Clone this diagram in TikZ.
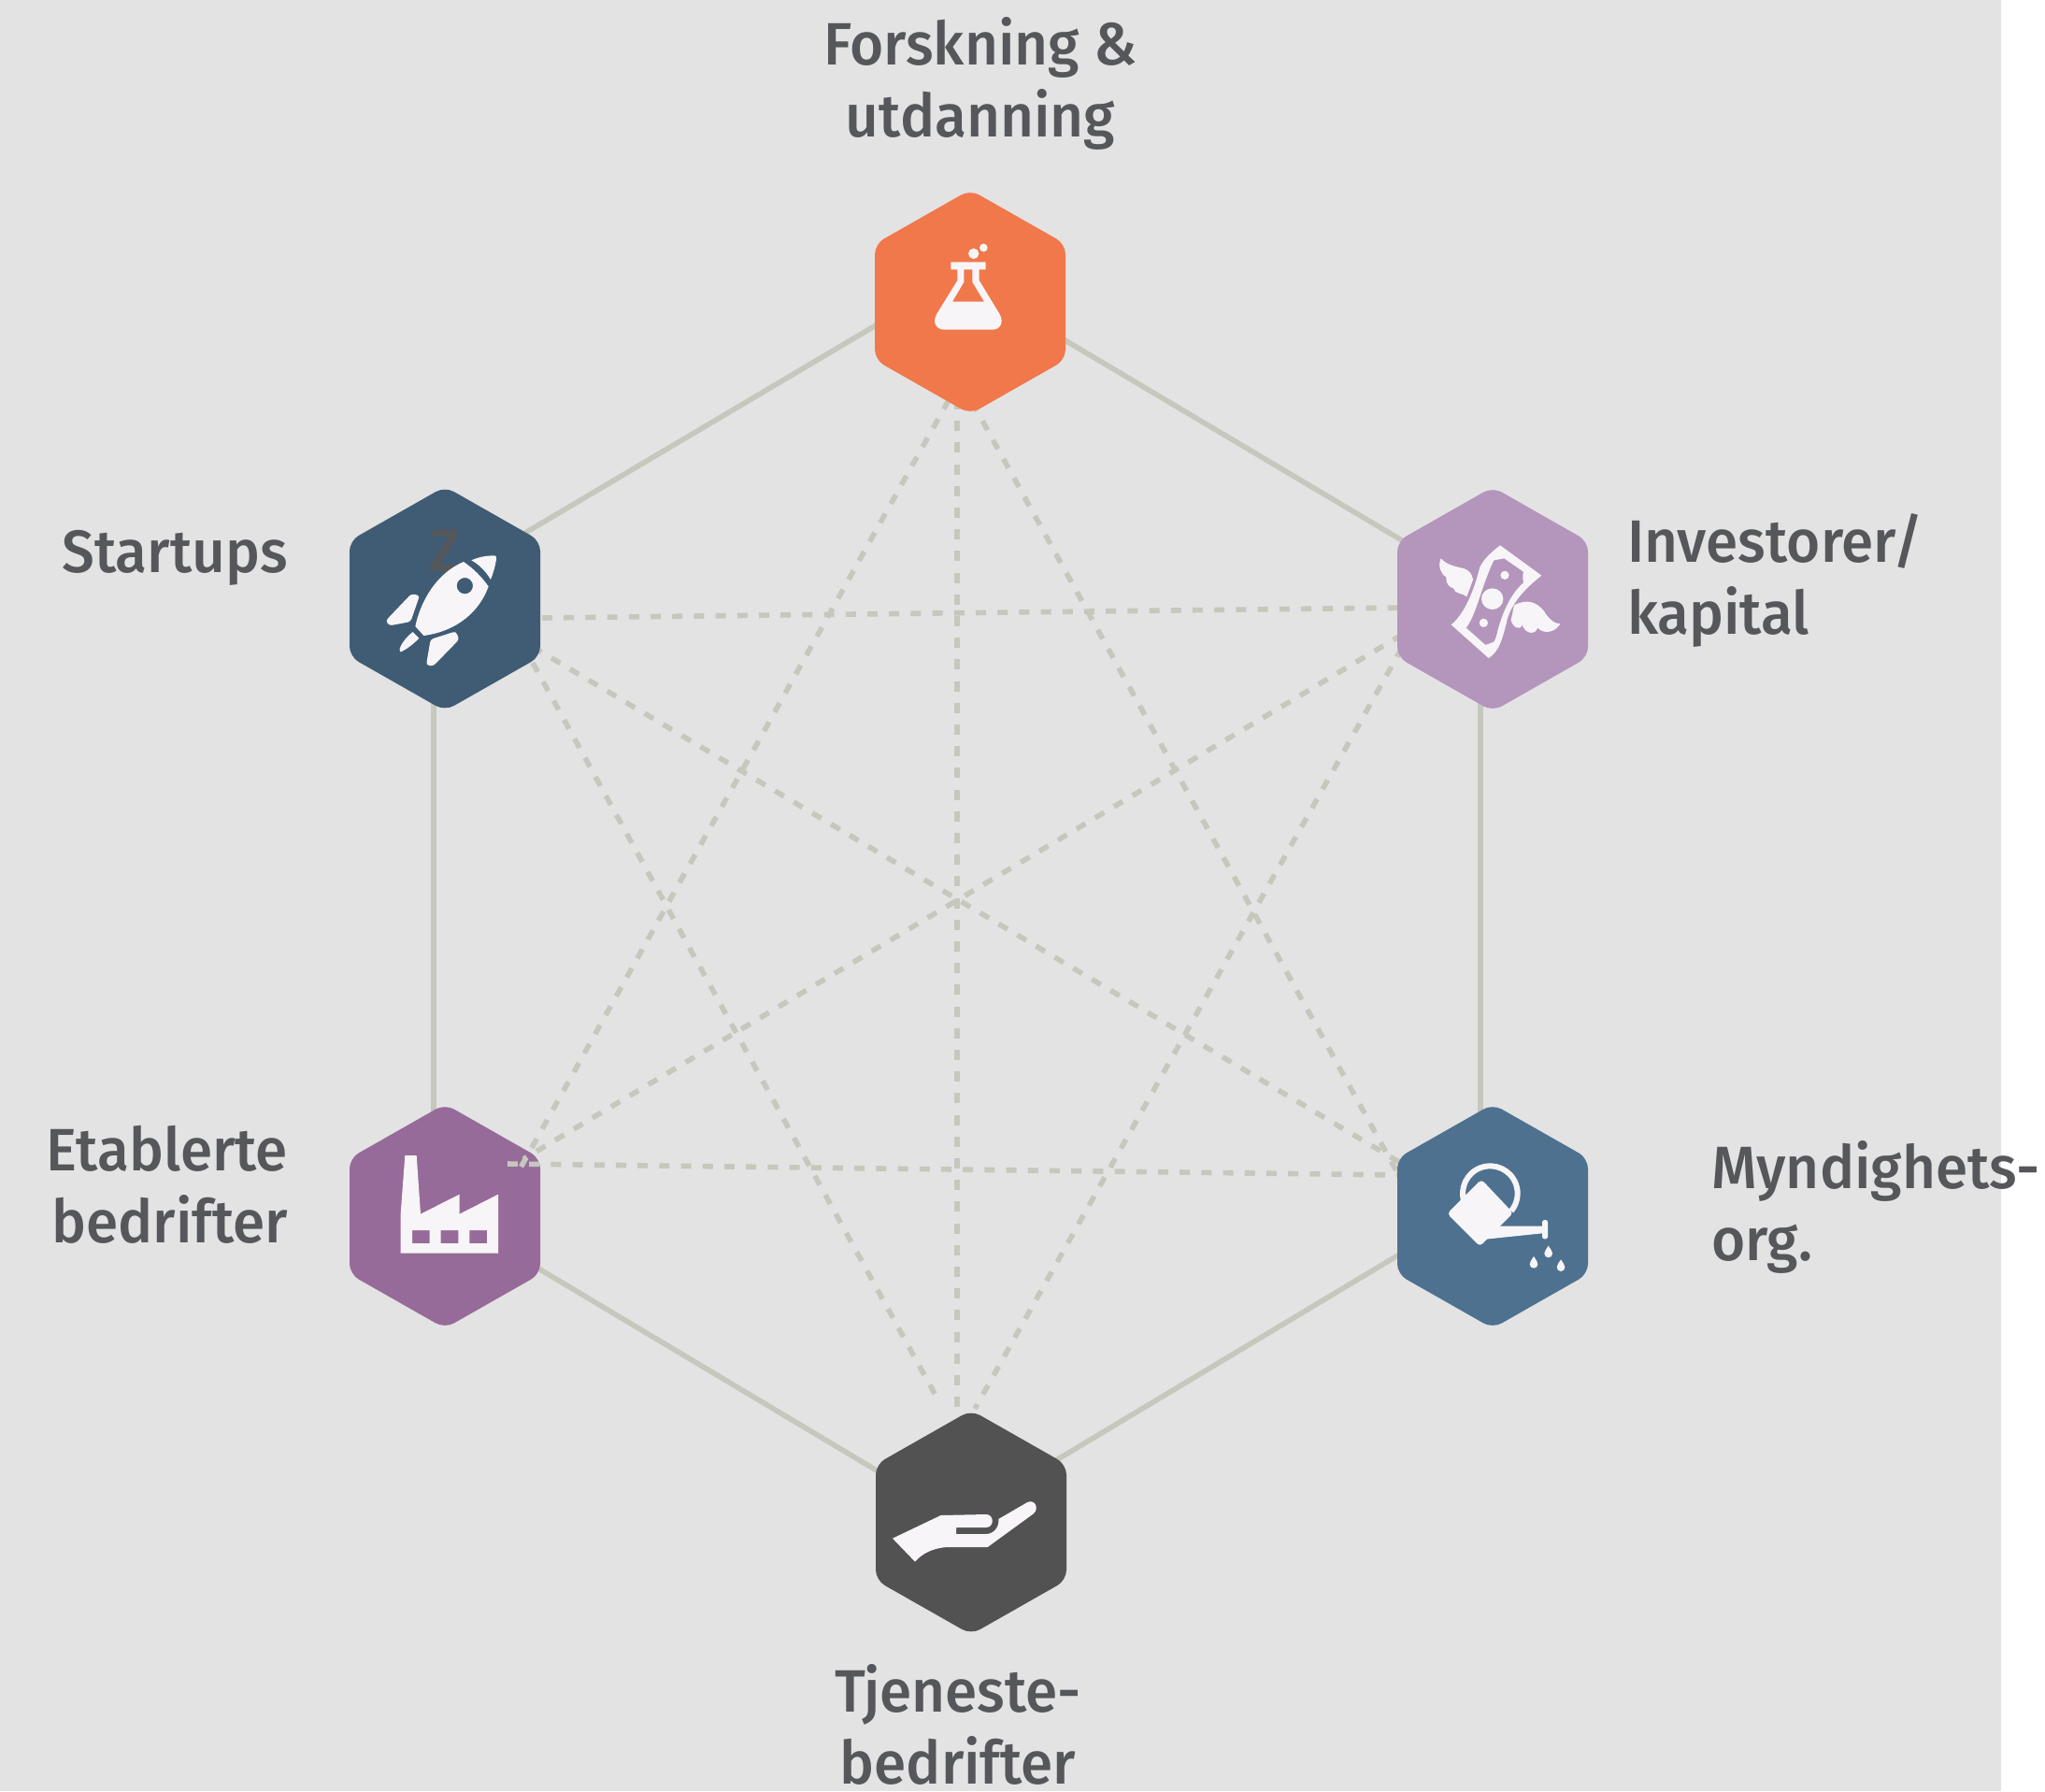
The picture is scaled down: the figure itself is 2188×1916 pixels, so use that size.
\documentclass[tikz,border=0pt]{standalone}
\usepackage{fontspec}
\setmainfont[FakeStretch=0.97,Ligatures=NoCommon]{Fira Sans Medium}
\definecolor{bggray}{HTML}{E3E3E3}
\definecolor{linegray}{HTML}{C6C7BD}
\definecolor{txtgray}{HTML}{55575A}
\definecolor{iconw}{HTML}{F7F5F8}
\definecolor{cOrange}{HTML}{F1784B}
\definecolor{cNavy}{HTML}{3F5C74}
\definecolor{cLilac}{HTML}{B495BC}
\definecolor{cPurple}{HTML}{976B99}
\definecolor{cBlue}{HTML}{4E7190}
\definecolor{cDark}{HTML}{525252}
\tikzset{
 ringline/.style={draw=linegray,line width=2.8pt},
 dashline/.style={draw=linegray,line width=2.8pt,dash pattern=on 5.5pt off 6.1pt},
 lab/.style={inner sep=0pt,outer sep=0pt,text=txtgray,font=\fontsize{32}{38.5}\selectfont,anchor=base},
 icon/.style={fill=iconw,draw=none},
 zoomed/.style={x=0.16667pt,y=-0.16667pt},
}
\newcommand\hexa[2]{\fill[#2,rounded corners=5.5pt] (#1)+(0,-120) -- +(102,-62) -- +(102,62) -- +(0,120) -- +(-102,62) -- +(-102,-62) -- cycle;}
\begin{document}
\begin{tikzpicture}[x=0.5pt,y=-0.5pt]
\useasboundingbox (0,0) rectangle (2188,1916);
\fill[white] (0,0) rectangle (2188,1916);
\fill[bggray] (0,0) rectangle (2141,1916);
% hub positions
\coordinate (hT) at (1038,323);
\coordinate (hS) at (476,640.5);
\coordinate (hI) at (1597,641);
\coordinate (hE) at (476,1301);
\coordinate (hM) at (1597,1301);
\coordinate (hB) at (1039,1628.5);
% ring corners
\coordinate (rT) at (1025,296);
\coordinate (rI) at (1584,628);
\coordinate (rM) at (1584,1290);
\coordinate (rB) at (1025,1625);
\coordinate (rE) at (464,1290);
\coordinate (rS) at (464,628);
\draw[ringline] (rT) -- (rI) -- (rM) -- (rB) -- (rE) -- (rS) -- cycle;
\hexa{hE}{cPurple}
% dashed ends
\coordinate (d1a) at (1024,427); \coordinate (d1b) at (1024,1506);
\coordinate (d2a) at (1015,428); \coordinate (d2b) at (552,1258);
\coordinate (d3a) at (1040,430); \coordinate (d3b) at (1497,1258);
\coordinate (d4a) at (580,661);  \coordinate (d4b) at (1505,650);
\coordinate (d5a) at (543,1245); \coordinate (d5b) at (1498,1257);
\coordinate (d6a) at (570,692);  \coordinate (d6b) at (1497,1243);
\coordinate (d7a) at (1500,679); \coordinate (d7b) at (560,1240);
\coordinate (d8a) at (570,709);  \coordinate (d8b) at (1005,1500);
\coordinate (d9a) at (1500,693); \coordinate (d9b) at (1043,1507);
\foreach \k in {1,...,9}{\draw[dashline] (d\k a) -- (d\k b);}
\hexa{hT}{cOrange}
\hexa{hS}{cNavy}
\hexa{hI}{cLilac}
\hexa{hM}{cBlue}
\hexa{hB}{cDark}
\node[lab] (zmark) at (476,611) {Z};
% flask
\begin{scope}[shift={(900,190)},zoomed]
\fill[icon] (425,244) circle (17);
\fill[icon] (457,225) circle (13);
\fill[icon,even odd rule] (352,271) -- (464,271) -- (464,295) -- (443,295) -- (443,330)
  -- (508,437) .. controls (524,465) and (510,488) .. (485,488) -- (332,488) .. controls (305,488) and (291,465) .. (307,437)
  -- (373,330) -- (373,295) -- (352,295) -- cycle
  (394,295) -- (421,295) -- (421,335) -- (459,398) -- (357,398) -- (394,335) -- cycle;
\end{scope}
% rocket
\begin{scope}[shift={(350,510)},zoomed]
\fill[icon] (463,268) .. controls (490,256) and (515,253) .. (538,253) .. controls (543,254) and (544,258) .. (543,265) .. controls (540,285) and (533,310) .. (525,330) .. controls (510,305) and (490,283) .. (463,268) -- cycle;
\fill[icon,even odd rule] (438,273) .. controls (350,310) and (300,400) .. (283,480) -- (310,510) .. controls (420,495) and (490,430) .. (518,352) .. controls (495,320) and (470,295) .. (438,273) -- cycle
 (442,350) circle (26);
\fill[icon,rounded corners=1.5pt] (188,462) -- (270,376) -- (297,381) -- (268,465) -- (200,478) -- cycle;
\fill[icon] (275,498) -- (295,518) .. controls (275,540) and (245,560) .. (235,562) .. controls (228,560) and (235,530) .. (275,498) -- cycle;
\fill[icon,rounded corners=1.5pt] (332,522) -- (413,496) -- (424,522) -- (340,608) -- (318,604) -- cycle;
\end{scope}
% money with wings
\begin{scope}[shift={(1470,510)},zoomed]
\fill[icon,even odd rule] (405,220) -- (538,317) .. controls (490,355) and (450,395) .. (430,450) .. controls (415,510) and (405,560) .. (368,582) -- (248,475) .. controls (290,440) and (320,370) .. (340,290) .. controls (355,260) and (380,240) .. (405,220) -- cycle
 (385,268) -- (418,262) -- (480,305) .. controls (476,320) and (478,330) .. (480,340) .. controls (440,375) and (415,430) .. (398,490) .. controls (394,510) and (390,522) .. (385,530) -- (358,540) -- (296,485) .. controls (330,440) and (345,350) .. (385,268) -- cycle
 (380,392) ellipse (35 and 34) (420,316) circle (14) (352,469) circle (14);
\fill[icon] (215,262) .. controls (235,285) and (265,288) .. (290,295) .. controls (305,300) and (315,312) .. (318,330) -- (298,385) .. controls (285,372) and (260,378) .. (255,358) .. controls (240,355) and (230,340) .. (232,322) .. controls (212,310) and (205,285) .. (215,262) -- cycle;
\fill[icon] (450,412) .. controls (490,392) and (520,400) .. (545,430) .. controls (560,455) and (578,472) .. (598,472) .. controls (585,495) and (550,510) .. (525,485) .. controls (520,505) and (490,510) .. (475,475) .. controls (472,495) and (445,485) .. (440,460) -- cycle;
\end{scope}
% factory
\begin{scope}[shift={(350,1170)},zoomed]
\fill[icon,even odd rule] (236,512) -- (236,385) -- (250,198) -- (287,198) -- (300,386) -- (425,323) -- (425,386) -- (549,323) -- (549,512) -- cycle
 (273,438) rectangle (329,480) (365,438) rectangle (421,480) (457,438) rectangle (513,480);
\end{scope}
% watering can
\begin{scope}[shift={(1470,1170)},zoomed]
\draw[iconw,line width=3pt] (373,320)+(160:88) arc[start angle=160,end angle=400,radius=88];
\fill[icon,rounded corners=2pt] (345,275) -- (447,383) -- (340,490) -- (235,385) -- cycle;
\fill[icon] (405,425) -- (540,425) -- (540,448) -- (358,467) -- (350,440) -- cycle;
\fill[icon,rounded corners=1.2pt] (540,405) rectangle (558,466);
\foreach \x/\y in {560/488,513/522,600/532}{
 \fill[icon,shift={(\x,\y)}] (0,0) .. controls (-8,12) and (-13,19) .. (-13,25) .. controls (-13,42) and (13,42) .. (13,25) .. controls (13,19) and (8,12) .. (0,0) -- cycle;}
\end{scope}
% hand
\begin{scope}[shift={(900,1490)},zoomed]
\fill[icon] (165,467) -- (320,393) -- (465,390) .. controls (492,390) and (492,432) .. (465,432) -- (369,432) -- (369,453) -- (465,453) .. controls (490,453) and (508,430) .. (505,405) -- (598,351) .. controls (620,340) and (638,370) .. (617,388) -- (470,495) -- (340,495) .. controls (295,498) and (260,515) .. (237,542) -- cycle;
\end{scope}
% labels
\node[lab,align=center] (tT) at (1049,147) {Forskning \&\\utdanning};
\node[lab,align=left,anchor=base west] (tI) at (1741,678) {Investorer/\\kapital};
\node[lab,align=left,anchor=base west] (tM) at (1831,1348) {Myndighets-\\org.};
\node[lab,align=center] (tB) at (1025,1908) {Tjeneste-\\bedrifter};
\node[lab,align=right,anchor=base east] (tE) at (308,1329) {Etablerte\\bedrifter};
\node[lab,anchor=base east] (tS) at (308,612) {Startups};
\end{tikzpicture}
\end{document}
